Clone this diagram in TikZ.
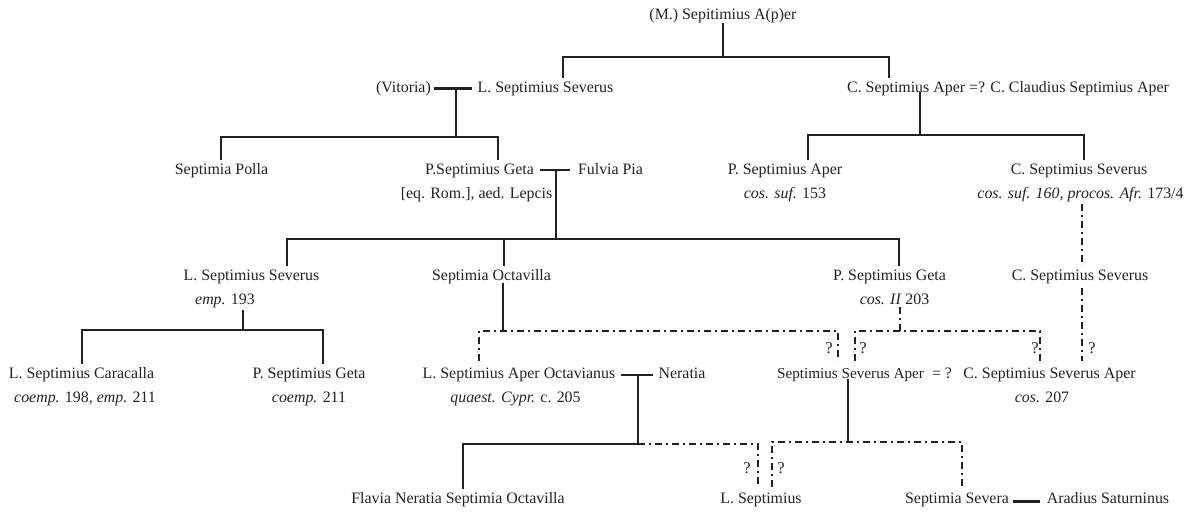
\documentclass[tikz,border=0pt]{standalone}
\usepackage{fontspec}
\setmainfont{Liberation Serif}
\definecolor{ink}{HTML}{222222}
\tikzset{
  person/.style={anchor=base,inner sep=0pt,outer sep=0pt,text height=14pt,text depth=3pt,text=ink,font=\fontsize{15.9}{17}\selectfont},
  tag/.style={person,font=\fontsize{16.5}{17}\selectfont},
  narrow/.style={person,font=\fontsize{15.2}{17}\selectfont},
  line/.style={draw=ink,line width=2.1pt,line cap=butt,line join=miter},
  couple/.style={line},
  dashline/.style={draw=ink,line width=2.1pt,dash pattern=on 7pt off 4pt on 2pt off 4pt},
}
\begin{document}
\begin{tikzpicture}[x=1pt,y=-1pt]
\useasboundingbox (0,0) rectangle (1189,513);
% people
\node[person] (root) at (723,20) {(M.) Sepitimius A(p)er};
\node[person] (vit) at (403.5,92.5) {(Vitoria)};
\node[person] (lsev) at (545.5,92.5) {L. Septimius Severus};
\node[person] (caper) at (1008,92.5) {C. Septimius Aper =? C. Claudius Septimius Aper};
\node[person] (polla) at (221.5,174.5) {Septimia Polla};
\node[person] (pgeta) at (479.5,174.5) {P.Septimius Geta};
\node[person] (pgetab) at (476.5,198.5) {[eq. Rom.], aed. Lepcis};
\node[person] (fulvia) at (610.5,174.5) {Fulvia Pia};
\node[person] (paper) at (785,174.5) {P. Septimius Aper};
\node[person] (papera) at (785,198.5) {\textit{cos. suf.} 153};
\node[person] (csev) at (1079,174.5) {C. Septimius Severus};
\node[person] (cseva) at (1080.5,198.5) {\textit{cos. suf. 160, procos. Afr.} 173/4};
\node[person] (emp) at (251.5,280) {L. Septimius Severus};
\node[person] (empb) at (225,304) {\textit{emp.} 193};
\node[person] (octa) at (491.5,280) {Septimia Octavilla};
\node[person] (geta) at (889.5,280) {P. Septimius Geta};
\node[person] (getab) at (894.5,304) {\textit{cos. II} 203};
\node[person] (csevb) at (1080,280) {C. Septimius Severus};
\node[person] (cara) at (81.5,378) {L. Septimius Caracalla};
\node[person] (carab) at (85,402) {\textit{coemp.} 198, \textit{emp.} 211};
\node[person] (pg) at (309,378) {P. Septimius Geta};
\node[person] (pgb) at (309,402) {\textit{coemp.} 211};
\node[person] (loct) at (519,378) {L. Septimius Aper Octavianus};
\node[person] (loctb) at (515.5,402) {\textit{quaest. Cypr.} c. 205};
\node[person] (nera) at (682,378) {Neratia};
\node[narrow] (ssa) at (850.5,378) {Septimius Severus Aper};
\node[person] (ssaq) at (942,378) {= ?};
\node[person] (csa) at (1049.5,378) {C. Septimius Severus Aper};
\node[person] (csab) at (1042,402) {\textit{cos.} 207};
\node[person] (flav) at (458,503) {Flavia Neratia Septimia Octavilla};
\node[person] (lsep) at (761,503) {L. Septimius};
\node[person] (ssev) at (957,503) {Septimia Severa};
\node[person] (arad) at (1108,503) {Aradius Saturninus};
% question marks
\node[tag] (q1) at (829,353) {?};
\node[tag] (q2) at (863,353) {?};
\node[tag] (q3) at (1035,353) {?};
\node[tag] (q4) at (1092,353) {?};
\node[tag] (q5) at (747,473) {?};
\node[tag] (q6) at (781,473) {?};
% junctions
\coordinate (j0) at (723,57);
\coordinate (j0l) at (563,57);
\coordinate (j0r) at (889,57);
\coordinate (c1) at (456,88.5);
\coordinate (j1) at (456,137);
\coordinate (j1l) at (221,137);
\coordinate (j1r) at (498,137);
\coordinate (c2) at (556,170);
\coordinate (j2) at (556,239);
\coordinate (j2l) at (287,239);
\coordinate (j2m) at (504,239);
\coordinate (j2r) at (899,239);
\coordinate (c3) at (920,92);
\coordinate (j3) at (920,135);
\coordinate (j3l) at (808,135);
\coordinate (j3r) at (1084,135);
\coordinate (c4) at (243,310);
\coordinate (j4) at (243,330);
\coordinate (j4l) at (82,330);
\coordinate (j4r) at (323,330);
\coordinate (j5) at (503,331);
\coordinate (j5l) at (479,331);
\coordinate (j5r) at (838,331);
\coordinate (j6) at (900,331);
\coordinate (j6l) at (855,331);
\coordinate (j6r) at (1040,331);
\coordinate (c7) at (638,375);
\coordinate (j7) at (638,444);
\coordinate (j7l) at (463,444);
\coordinate (j7r) at (758,444);
\coordinate (j8) at (848,442);
\coordinate (j8l) at (772,442);
\coordinate (j8r) at (962,442);
\coordinate (s1) at (1082,204);
\coordinate (s2) at (1082,288);
% solid descent
\draw[line] (j0 |- root.south) -- (j0);
\draw[line] (j0l |- lsev.north) -- (j0l) -- (j0r) -- (j0r |- caper.north);
\draw[couple] ([xshift=3pt]c1 -| vit.east) -- ([xshift=-6pt]c1 -| lsev.west);
\draw[line] (c1) -- (j1);
\draw[line] (j1l |- polla.north) -- (j1l) -- (j1r) -- (j1r |- pgeta.north);
\draw[couple] ([xshift=6pt]c2 -| pgeta.east) -- ([xshift=-8pt]c2 -| fulvia.west);
\draw[line] (c2) -- (j2);
\draw[line] (j2l |- emp.north) -- (j2l) -- (j2r) -- (j2r |- geta.north);
\draw[line] (j2m) -- (j2m |- octa.north);
\draw[line] (c3) -- ++(0,3) -- (j3);
\draw[line] (j3l |- paper.north) -- (j3l) -- (j3r) -- (j3r |- csev.north);
\draw[line] (c4) -- (j4);
\draw[line] (j4l |- cara.north) -- (j4l) -- (j4r) -- (j4r |- pg.north);
\draw[line] (j5 |- octa.south) -- (j5);
\draw[couple] ([xshift=6pt]c7 -| loct.east) -- ([xshift=-6pt]c7 -| nera.west);
\draw[line] (c7) -- (j7) -- (j7l) -- (j7l |- flav.north);
\draw[line] ([yshift=2pt]j8 |- ssa.south) -- (j8);
\draw[couple] ([xshift=4pt,yshift=-4pt]ssev.east) -- ([xshift=-7pt,yshift=-4pt]arad.west);
% uncertain descent
\draw[dashline] (j7) -- (j7r) -- ([yshift=2pt]j7r |- lsep.north);
\draw[dashline] ([yshift=3pt]j5l |- loct.north) -- (j5l) -- (j5r) -- ([yshift=3pt]j5r |- ssa.north);
\draw[dashline] (j6 |- getab.south) -- (j6);
\draw[dashline] ([yshift=3pt]j6l |- ssa.north) -- (j6l) -- (j6r) -- ([yshift=3pt]j6r |- csa.north);
\draw[dashline] ([yshift=2pt]j8l |- lsep.north) -- (j8l) -- (j8r) -- ([yshift=2pt]j8r |- ssev.north);
\draw[dashline] (s1) -- (s1 |- csevb.north);
\draw[dashline] (s2) -- ([yshift=3pt]s2 |- csa.north);
\end{tikzpicture}
\end{document}
